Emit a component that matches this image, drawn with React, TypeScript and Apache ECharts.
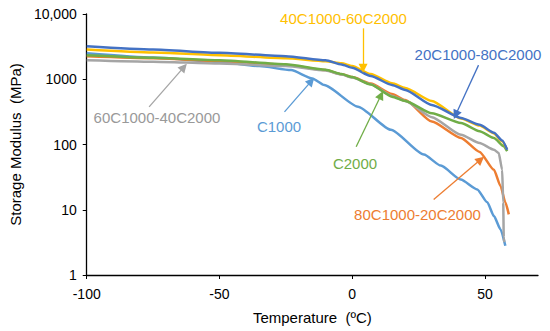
import React, { useEffect, useRef } from "react";
import * as echarts from "echarts";

// ---- data (Temperature °C, Storage modulus MPa) ----
const xTickValues = [-100, -50, 0, 50];
const yTickValues = [1, 10, 100, 1000, 10000];

const s20C1000_80C2000: [number, number][] = [
  [-100, 3210], [-75, 2860], [-50, 2540], [-25, 2260], [-10, 1960], [-4, 1680],
  [0, 1500], [7, 1120], [15, 817], [20, 685], [30, 404], [41, 255], [48, 200],
  [53.4, 151], [56.5, 115], [58.4, 83],
];
const s40C1000_60C2000: [number, number][] = [
  [-100, 2860], [-75, 2570], [-50, 2340], [-25, 2100], [-10, 1890], [-4, 1760],
  [0, 1600], [7, 1200], [15, 866], [20, 735], [30, 465], [41, 250], [48, 195],
  [53.4, 148], [56.5, 112], [58.2, 86],
];
const sC2000: [number, number][] = [
  [-100, 2340], [-75, 2140], [-50, 1960], [-25, 1700], [-10, 1400], [-4, 1200],
  [0, 1080], [7, 830], [15, 541], [20, 465], [30, 300], [41, 213], [48, 160],
  [53.4, 126], [57.1, 94], [58.4, 79],
];
const s60C1000_40C2000: [number, number][] = [
  [-100, 1960], [-75, 1860], [-50, 1740], [-25, 1590], [-10, 1360], [-4, 1180],
  [0, 1060], [7, 840], [15, 555], [20, 465], [30, 262], [41, 141], [48, 105],
  [53.4, 83], [55.2, 74], [56.5, 41], [56.9, 13], [57.1, 3.8], [57.3, 3.2],
];
const s80C1000_20C2000: [number, number][] = [
  [-100, 2250], [-75, 2100], [-50, 1900], [-25, 1660], [-10, 1380], [-4, 1190],
  [0, 1080], [7, 860], [15, 595], [20, 480], [30, 225], [41, 126], [48, 77],
  [53.4, 41], [55.9, 23], [57.7, 13], [59, 8.5],
];
const sC1000: [number, number][] = [
  [-100, 2500], [-75, 2150], [-50, 1850], [-35, 1590], [-23, 1380], [-15, 1030],
  [-10.5, 815], [2.2, 380], [14.6, 168], [27, 70], [33.4, 47.5], [40.9, 29],
  [47.1, 20.5], [50.9, 13], [53.4, 8], [55.9, 5], [57.7, 2.8],
];

// annotation arrows: [from, to] in data coordinates
const arrow40_60: [number, number][] = [[4.1, 6030], [4.1, 1480]];
const arrow20_80: [number, number][] = [[47.6, 1646], [39, 285]];
const arrowC1000: [number, number][] = [[-25.5, 316], [-15.4, 937]];
const arrowC2000: [number, number][] = [[1.5, 92.5], [10.9, 572]];
const arrow80_20: [number, number][] = [[30.7, 14.4], [48.4, 58.7]];
const arrow60_40: [number, number][] = [[-76.5, 377], [-63.4, 1535]];

const FONT = "'Liberation Sans', Arial, sans-serif";

const C_BLUE = "#4472C4";
const C_YELLOW = "#FFC000";
const C_GREEN = "#70AD47";
const C_GREY = "#A5A5A5";
const C_ORANGE = "#ED7D31";
const C_LBLUE = "#5B9BD5";

function makeSeries(name: string, data: [number, number][], color: string, arrow: [number, number][]) {
  return {
    name,
    type: "line",
    data,
    showSymbol: false,
    symbol: "none",
    smooth: 0.2,
    smoothMonotone: "x",
    lineStyle: { color, width: 2.5 },
    itemStyle: { color },
    silent: true,
    markLine: {
      silent: true,
      symbol: ["none", "triangle"],
      symbolSize: 9,
      label: { show: false },
      lineStyle: { color, width: 1.3, type: "solid" },
      data: [[{ coord: arrow[0] }, { coord: arrow[1] }]],
    },
  };
}

export default function App() {
  const ref = useRef<HTMLDivElement>(null);
  useEffect(() => {
    if (!ref.current) return;
    const chart = echarts.init(ref.current, null, { renderer: "svg" });
    const labelStyle = (text: string, x: number, y: number, color: string) => ({
      type: "text",
      x,
      y,
      style: {
        text,
        fill: color,
        font: `15px ${FONT}`,
        align: "center",
        verticalAlign: "middle",
      },
      silent: true,
    });
    chart.setOption({
      animation: false,
      backgroundColor: "#fff",
      grid: { left: 84, right: 12, top: 14, bottom: 56, containLabel: false },
      xAxis: {
        type: "value",
        min: -100,
        max: 70,
        interval: 50,
        name: "Temperature  (\u00BAC)",
        nameLocation: "middle",
        nameGap: 35,
        nameTextStyle: { fontFamily: FONT, fontSize: 15, color: "#000" },
        axisLine: { onZero: false, lineStyle: { color: "#000", width: 1.3 } },
        axisTick: { show: true, inside: false, length: 4, customValues: xTickValues, lineStyle: { color: "#000" } },
        axisLabel: {
          customValues: xTickValues,
          margin: 12,
          fontFamily: FONT,
          fontSize: 14,
          color: "#000",
          formatter: (v: number) => (xTickValues.includes(v) ? String(v) : ""),
        },
        splitLine: { show: false },
      },
      yAxis: {
        type: "log",
        logBase: 10,
        min: 1,
        max: 10000,
        name: "Storage Modulus  (MPa)",
        nameLocation: "middle",
        nameGap: 58,
        nameTextStyle: { fontFamily: FONT, fontSize: 15, color: "#000" },
        axisLine: { show: true, onZero: false, lineStyle: { color: "#000", width: 1.3 } },
        axisTick: { show: true, inside: false, length: 4, lineStyle: { color: "#000" } },
        axisLabel: {
          margin: 10,
          fontFamily: FONT,
          fontSize: 14,
          color: "#000",
          formatter: (v: number) =>
            yTickValues.includes(Math.round(v)) ? (Math.round(v) >= 10000 ? "10,000" : String(Math.round(v))) : "",
        },
        splitLine: { show: false },
        minorTick: { show: false },
      },
      series: [
        makeSeries("C1000", sC1000, C_LBLUE, arrowC1000),
        makeSeries("80C1000-20C2000", s80C1000_20C2000, C_ORANGE, arrow80_20),
        makeSeries("60C1000-40C2000", s60C1000_40C2000, C_GREY, arrow60_40),
        makeSeries("C2000", sC2000, C_GREEN, arrowC2000),
        makeSeries("40C1000-60C2000", s40C1000_60C2000, C_YELLOW, arrow40_60),
        makeSeries("20C1000-80C2000", s20C1000_80C2000, C_BLUE, arrow20_80),
      ],
      graphic: [
        labelStyle("40C1000-60C2000", 343.5, 18, C_YELLOW),
        labelStyle("20C1000-80C2000", 478, 54, C_BLUE),
        labelStyle("C1000", 279, 126, C_LBLUE),
        labelStyle("C2000", 355, 163, C_GREEN),
        labelStyle("80C1000-20C2000", 417.5, 214, C_ORANGE),
        labelStyle("60C1000-40C2000", 157, 117, "#999999"),
      ],
    });
    return () => chart.dispose();
  }, []);
  return (
    <div
      ref={ref}
      style={{ position: "fixed", left: 0, top: 0, width: 550, height: 331, background: "#fff" }}
    />
  );
}
